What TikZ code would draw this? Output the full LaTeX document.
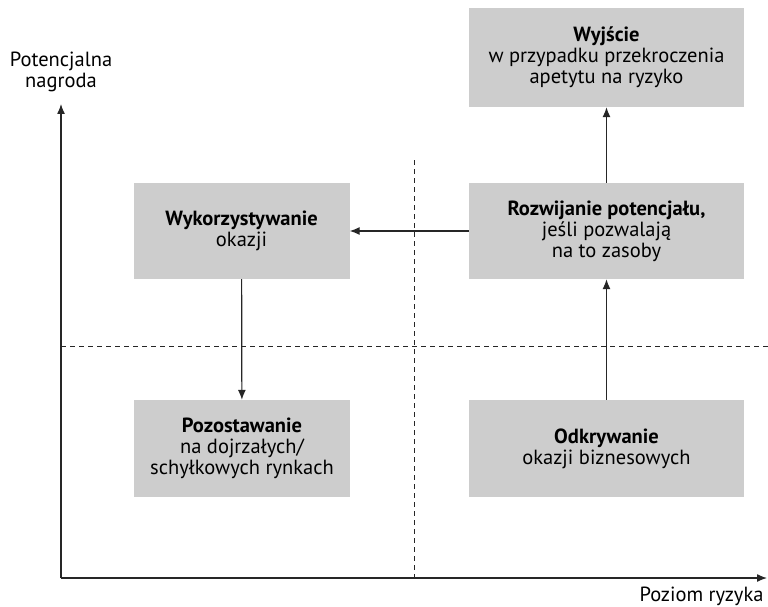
\documentclass[tikz,border=0pt]{standalone}
\usepackage{fontspec}
\setmainfont{PT Sans}
\usetikzlibrary{arrows.meta}
\definecolor{box}{HTML}{CDCDCD}
\definecolor{ink}{HTML}{262626}

\begin{document}
\begin{tikzpicture}[x=1pt,y=-1pt,font=\fontsize{20.5}{21}\selectfont,
 card/.style={fill=box,draw=none,align=center,inner sep=2pt},
 wide/.style={card,minimum width=275pt,minimum height=97pt},
 narrow/.style={card,minimum width=216pt,minimum height=97pt},
 flow/.style={-{Latex[length=10pt,width=8pt]},draw=ink,line width=1.2pt},
 axis/.style={-{Latex[length=10pt,width=8pt]},draw=ink,line width=1.3pt},
 split/.style={draw=ink,line width=.8pt,dash pattern=on 5pt off 4pt}]
\path[use as bounding box] (0,0) rectangle (768,607);
% quadrant dividers
\draw[split] (61,346) -- (768,346);
\draw[split] (414,160) -- (414,578);
% axes
\coordinate (origin) at (61,578);
\coordinate (ytop) at (61,104);
\coordinate (xend) at (767,578);
\draw[axis] (origin) -- (ytop);
\draw[axis] (origin) -- (xend);
\node[align=center] (reward) at (61,72) {Potencjalna\\nagroda};
\node[anchor=east] (risk) at (767,596) {Poziom ryzyka};
% strategy cards
\node[wide,minimum height=99pt] (exit) at (606.5,57.5)
 {\textbf{Wyjście}\\w przypadku przekroczenia\\apetytu na ryzyko};
\node[wide,minimum height=96pt] (grow) at (606.5,231)
 {\textbf{Rozwijanie potencjału,}\\jeśli pozwalają\\na to zasoby};
\node[wide] (find) at (606.5,448.5)
 {\textbf{Odkrywanie}\\okazji biznesowych};
\node[narrow,minimum height=96pt] (use) at (241.5,231)
 {\textbf{Wykorzystywanie}\\okazji};
\node[narrow] (stay) at (242,448.5)
 {\textbf{Pozostawanie}\\na dojrzałych/\\schyłkowych rynkach};
% moves between quadrants
\draw[flow] (find) -- (grow);
\draw[flow] (grow) -- (exit);
\draw[flow] (grow) -- (use);
\draw[flow] (use) -- (stay);
\end{tikzpicture}
\end{document}
